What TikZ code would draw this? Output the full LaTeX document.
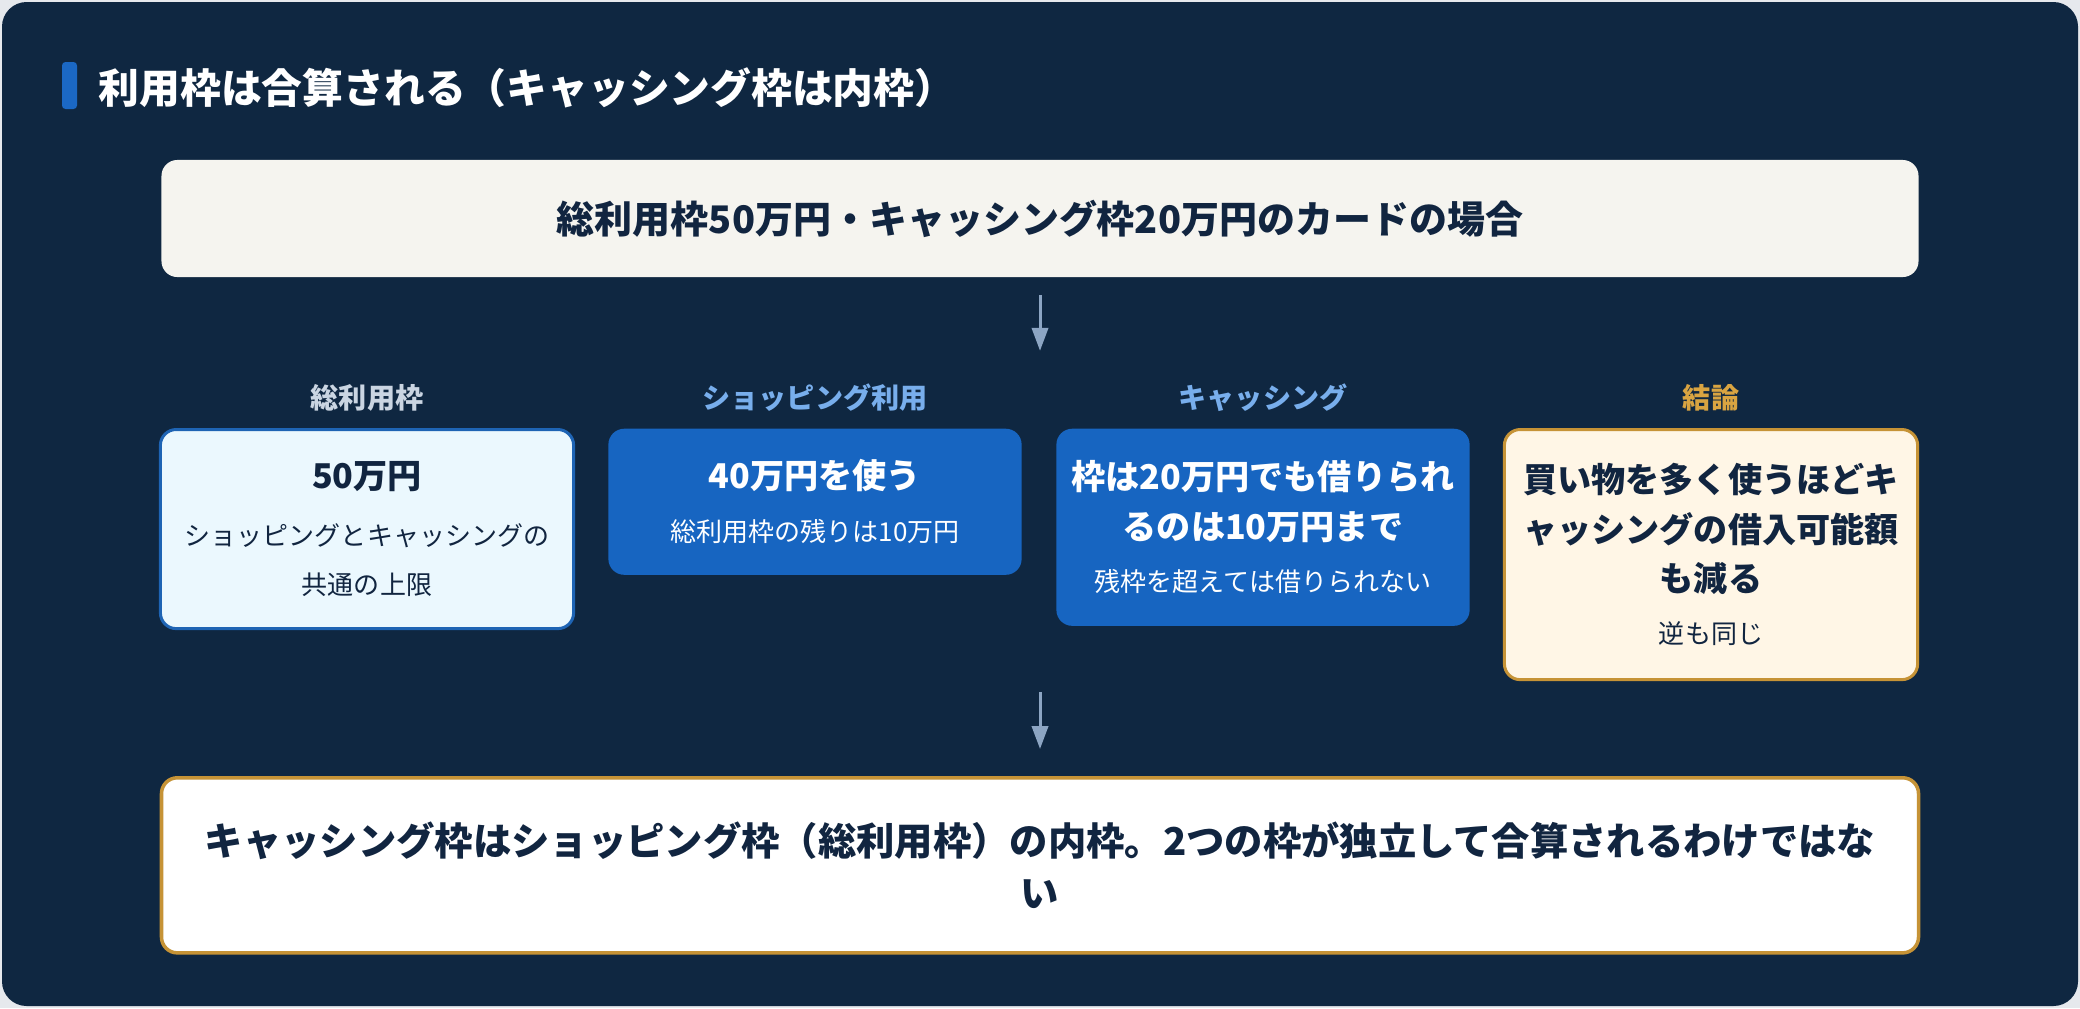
\documentclass[tikz,border=0pt]{standalone}
\usepackage{fontspec}
\setmainfont{Noto Sans CJK JP}
\usetikzlibrary{positioning,arrows.meta}

\definecolor{pagebg}{HTML}{E6E9ED}
\definecolor{navy}{HTML}{0F2741}
\definecolor{ink}{HTML}{112540}
\definecolor{barblue}{HTML}{1B68C4}
\definecolor{cardblue}{HTML}{1765C1}
\definecolor{edgeblue}{HTML}{1E64B4}
\definecolor{paleblue}{HTML}{EBF8FE}
\definecolor{cream}{HTML}{F5F4EF}
\definecolor{paleamber}{HTML}{FFF6E6}
\definecolor{gold}{HTML}{C69336}
\definecolor{headgray}{HTML}{CAD5E2}
\definecolor{headblue}{HTML}{78AEEC}
\definecolor{headgold}{HTML}{D9A441}
\definecolor{arrowgray}{HTML}{8CA5C3}

\newcommand{\cardlead}{\bfseries\fontsize{9.7pt}{14pt}\selectfont}
\newcommand{\cardnote}{\mdseries\fontsize{7.4pt}{14pt}\selectfont}
\setlength{\lineskiplimit}{-20pt}

\begin{document}
\begin{tikzpicture}[x=0.01cm,y=-0.01cm,
	card/.style={rounded corners=4.5pt,minimum width=4.13cm,anchor=north,align=center,inner sep=0pt,font=\fontsize{7.4pt}{14pt}\selectfont},
	colhead/.style={font=\bfseries\fontsize{8pt}{10pt}\selectfont},
	flow/.style={draw=arrowgray,line width=0.85pt,-{Triangle[width=4.6pt,length=6.5pt]}}
	]
	\fill[pagebg] (0,0) rectangle (2080,1008);
	\fill[navy,rounded corners=7pt] (2,2) rectangle (2078,1006);

	\fill[barblue,rounded corners=1pt] (62,62) rectangle (77,109);
	\node[anchor=west,inner sep=0pt,text=white,font=\bfseries\fontsize{11.6pt}{14pt}\selectfont] (title) at (98,88) {利用枠は合算される（キャッシング枠は内枠）};

	\node[fill=cream,rounded corners=4.5pt,minimum width=17.56cm,minimum height=1.17cm,text=ink,font=\bfseries\fontsize{10.8pt}{13pt}\selectfont] (case) at (1040,218.5) {総利用枠50万円・キャッシング枠20万円のカードの場合};
	\draw[flow] ([yshift=-0.17cm]case.south) -- ([yshift=-0.73cm]case.south);

	\node[colhead,text=headgray] (hTotal) at (367,398) {総利用枠};
	\node[colhead,text=headblue] (hShop) at (815,398) {ショッピング利用};
	\node[colhead,text=headblue] (hCash) at (1263,398) {キャッシング};
	\node[colhead,text=headgold] (hEnd) at (1711,398) {結論};

	\node[card,fill=paleblue,draw=edgeblue,line width=0.85pt,minimum height=1.99cm,text=ink] (total) at (367,428)
		{\cardlead 50万円\\[2.2pt]\cardnote ショッピングとキャッシングの\\\cardnote 共通の上限};
	\node[card,fill=cardblue,minimum height=1.46cm,text=white] (shop) at (815,428)
		{\cardlead 40万円を使う\\[1pt]\cardnote 総利用枠の残りは10万円};
	\node[card,fill=cardblue,minimum height=1.97cm,text=white] (cash) at (1263,428)
		{\cardlead 枠は20万円でも借りられ\\\cardlead るのは10万円まで\\[1pt]\cardnote 残枠を超えては借りられない};
	\node[card,fill=paleamber,draw=gold,line width=0.85pt,minimum height=2.50cm,text=ink] (concl) at (1711,428)
		{\cardlead 買い物を多く使うほどキ\\\cardlead ャッシングの借入可能額\\\cardlead も減る\\[0.8pt]\cardnote 逆も同じ};

	\node[fill=white,draw=gold,line width=1pt,rounded corners=4.5pt,minimum width=17.56cm,minimum height=1.75cm,anchor=north,align=center,text=ink,font=\bfseries\fontsize{10.9pt}{14.8pt}\selectfont] (summary) at (1040,776)
		{キャッシング枠はショッピング枠（総利用枠）の内枠。2つの枠が独立して合算されるわけではな\\い};
	\draw[flow] ([yshift=0.84cm]summary.north) -- ([yshift=0.27cm]summary.north);
\end{tikzpicture}
\end{document}
